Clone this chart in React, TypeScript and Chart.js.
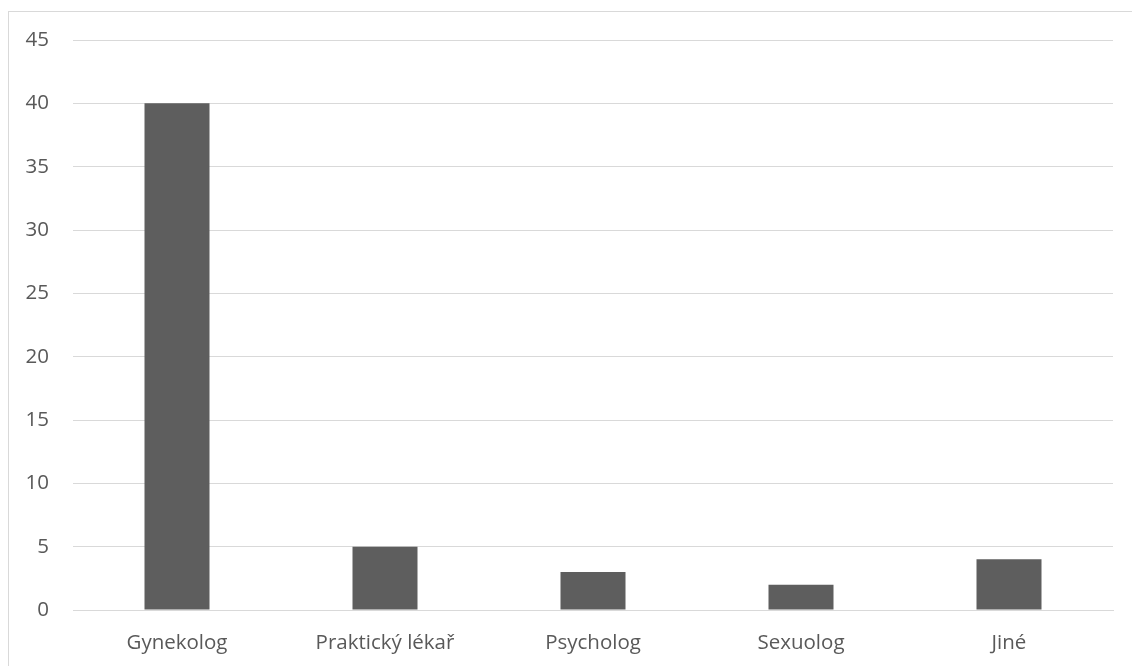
import React, { useEffect, useRef } from "react";
import { Chart, registerables } from "chart.js";

Chart.register(...registerables);

const categories = ["Gynekolog", "Praktický lékař", "Psycholog", "Sexuolog", "Jiné"];
const values = [40, 5, 3, 2, 4];
const yTicks = [0, 5, 10, 15, 20, 25, 30, 35, 40, 45];

const FONT = "'Open Sans', 'Noto Sans', sans-serif";

export default function App() {
  const ref = useRef<HTMLCanvasElement | null>(null);

  useEffect(() => {
    document.body.style.margin = "0";
    document.body.style.overflow = "hidden";
    const frame = {
      id: "frame",
      beforeDraw(chart: any) {
        const ctx = chart.ctx;
        ctx.save();
        ctx.fillStyle = "#ffffff";
        ctx.fillRect(0, 0, chart.width, chart.height);
        ctx.strokeStyle = "#d9d9d9";
        ctx.lineWidth = 1;
        ctx.strokeRect(8.5, 11.5, 1400, 1000);
        ctx.restore();
      },
    };
    const chart = new Chart(ref.current!, {
      type: "bar",
      data: {
        labels: categories,
        datasets: [
          {
            data: values,
            backgroundColor: "#5e5e5e",
            borderWidth: 0,
            categoryPercentage: 1,
            barPercentage: 0.3125,
          },
        ],
      },
      plugins: [frame],
      options: {
        animation: false,
        responsive: false,
        maintainAspectRatio: false,
        layout: { padding: { top: 40, right: 19, left: 0, bottom: 0 } },
        plugins: { legend: { display: false }, tooltip: { enabled: false } },
        scales: {
          x: {
            grid: { display: false, drawTicks: false },
            border: { display: true, color: "#d9d9d9", width: 1 },
            ticks: {
              color: "#595959",
              font: { family: FONT, size: 20.5 },
              padding: 21,
              maxRotation: 0,
            },
            afterFit: (s: any) => {
              s.height = 56;
            },
          },
          y: {
            min: 0,
            max: 45,
            afterBuildTicks: (s: any) => {
              s.ticks = yTicks.map((v) => ({ value: v }));
            },
            grid: { color: "#d9d9d9", drawTicks: false, lineWidth: 1 },
            border: { display: false },
            ticks: {
              color: "#595959",
              font: { family: FONT, size: 20.5 },
              padding: 24,
            },
            afterFit: (s: any) => {
              s.width = 73;
            },
          },
        },
      },
    });
    return () => chart.destroy();
  }, []);

  return (
    <div style={{ position: "fixed", left: 0, top: 0, width: 1132, height: 666 }}>
      <canvas ref={ref} width={1132} height={666} style={{ width: 1132, height: 666, display: "block" }} />
    </div>
  );
}
